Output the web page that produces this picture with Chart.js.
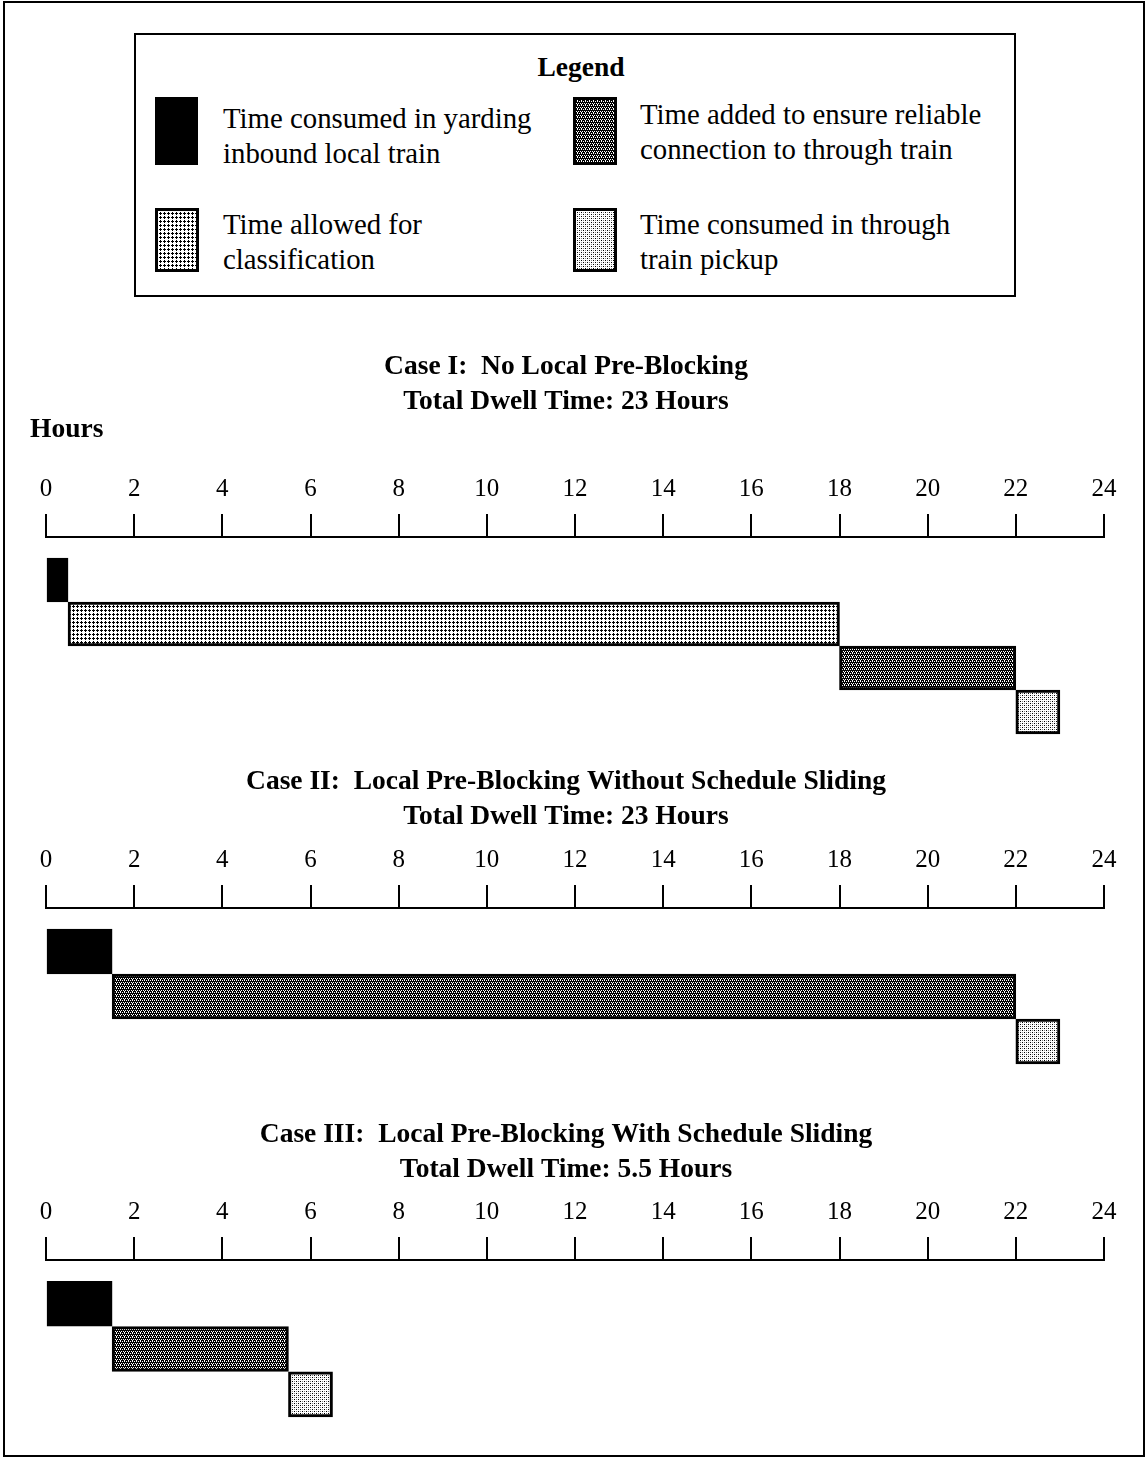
<!DOCTYPE html>
<html>
<head>
<meta charset="utf-8">
<title>Dwell time cases</title>
<script src="https://cdn.jsdelivr.net/npm/chart.js@4.4.1/dist/chart.umd.min.js"></script>
<style>
  body { margin: 0; background: #fff; }
  #page { position: relative; width: 1148px; height: 1458px; overflow: hidden; font-family: "Liberation Serif", "Times New Roman", serif; color: #000; }
  #frame { position: absolute; left: 3px; top: 1px; width: 1142px; height: 1456px; box-sizing: border-box; border: 2px solid #000; }
  #legend { position: absolute; left: 134px; top: 33px; width: 882px; height: 264px; box-sizing: border-box; border: 2px solid #000; }
  #legend h3 { position: absolute; left: 0; right: 0; top: 15px; margin: 0; text-align: center; font-size: 27.5px; line-height: 34px; font-weight: bold; transform: translateX(6px); }
  .swatch { position: absolute; }
  .item { position: absolute; font-size: 28.8px; line-height: 35px; white-space: nowrap; }
  canvas { position: absolute; left: 0; }
  #hours { position: absolute; left: 30px; top: 411px; font-size: 27.5px; line-height: 34px; font-weight: bold; }
</style>
</head>
<body>
<div id="page">
  <div id="frame"></div>
  <div id="legend"><h3>Legend</h3></div>
  <canvas id="case1" width="1132" height="399" style="top:345px"></canvas>
  <canvas id="case2" width="1132" height="314" style="top:760px"></canvas>
  <canvas id="case3" width="1132" height="314" style="top:1113px"></canvas>
  <div id="hours">Hours</div>
</div>
<script>
// hours shown on each ruler
const hourTicks = [0, 2, 4, 6, 8, 10, 12, 14, 16, 18, 20, 22, 24];

// the four kinds of time, as written in the legend
const kindLines = [
  ["Time consumed in yarding", "inbound local train"],
  ["Time allowed for", "classification"],
  ["Time added to ensure reliable", "connection to through train"],
  ["Time consumed in through", "train pickup"]
];

// Case I
const case1Title = ["Case I:  No Local Pre-Blocking", "Total Dwell Time: 23 Hours"];
const case1Kinds = [0, 1, 2, 3];
const case1Start = [0, 0.5, 18, 22];
const case1End = [0.5, 18, 22, 23];

// Case II
const case2Title = ["Case II:  Local Pre-Blocking Without Schedule Sliding", "Total Dwell Time: 23 Hours"];
const case2Kinds = [0, 2, 3];
const case2Start = [0, 1.5, 22];
const case2End = [1.5, 22, 23];

// Case III
const case3Title = ["Case III:  Local Pre-Blocking With Schedule Sliding", "Total Dwell Time: 5.5 Hours"];
const case3Kinds = [0, 2, 3];
const case3Start = [0, 1.5, 5.5];
const case3End = [1.5, 5.5, 6.5];

// small tiles that imitate the printed screens
function makeTile(size, black, grey) {
  const c = document.createElement("canvas");
  c.width = c.height = size;
  const g = c.getContext("2d");
  g.fillStyle = "#fff";
  g.fillRect(0, 0, size, size);
  g.fillStyle = "#000";
  black.forEach(p => g.fillRect(p[0], p[1], 1, 1));
  g.fillStyle = "#888";
  (grey || []).forEach(p => g.fillRect(p[0], p[1], 1, 1));
  return c;
}

const tiles = [
  null,
  makeTile(4, [[1, 0], [0, 1], [1, 1], [2, 1], [1, 2]]),
  makeTile(4, [[1, 0], [3, 0], [0, 1], [1, 1], [2, 1], [0, 2], [2, 2], [1, 3], [2, 3], [3, 3], [3, 1]]),
  makeTile(4, [[0, 0], [2, 2]], [[2, 0], [0, 2]])
];

function fillFor(ctx, kind) {
  if (kind === 0) return "#000";
  return ctx.createPattern(tiles[kind], "repeat");
}

// legend built from the same fills
const legendBox = document.getElementById("legend");
const swatchPos = [[19, 62, 43, 68], [19, 173, 44, 64], [437, 62, 44, 68], [437, 173, 44, 64]];
const textPos = [[87, 65.5], [87, 171.5], [504, 61.5], [504, 171.5]];
kindLines.forEach((lines, k) => {
  const s = swatchPos[k];
  const sw = document.createElement("canvas");
  sw.className = "swatch";
  sw.width = s[2]; sw.height = s[3];
  sw.style.left = s[0] + "px"; sw.style.top = s[1] + "px";
  const g = sw.getContext("2d");
  g.fillStyle = fillFor(g, k);
  g.fillRect(0, 0, s[2], s[3]);
  g.strokeStyle = "#000"; g.lineWidth = 3;
  g.strokeRect(1.5, 1.5, s[2] - 3, s[3] - 3);
  legendBox.appendChild(sw);
  const t = document.createElement("div");
  t.className = "item";
  t.style.left = textPos[k][0] + "px"; t.style.top = textPos[k][1] + "px";
  t.innerHTML = lines.join("<br>");
  legendBox.appendChild(t);
});

function drawCase(id, title, kinds, starts, ends, rowPx, titleGap) {
  const ctx = document.getElementById(id).getContext("2d");
  const rows = kinds.length;
  const topGap = 21, bottomGap = 10;
  const datasets = [0, 1, 2, 3].filter(k => kinds.includes(k)).map(k => ({
    label: kindLines[k].join(" "),
    data: kinds.map((kk, i) => kk === k ? { x: [starts[i], ends[i]], y: i } : null).filter(d => d),
    backgroundColor: fillFor(ctx, k),
    borderColor: "#000",
    borderWidth: 3,
    borderSkipped: false,
    barThickness: rowPx,
    grouped: false
  }));

  return new Chart(ctx, {
    type: "bar",
    data: { datasets: datasets },
    options: {
      indexAxis: "y",
      responsive: false,
      animation: false,
      layout: { padding: { left: 28, right: 28, top: 0, bottom: 0 } },
      plugins: {
        legend: { display: false },
        tooltip: { enabled: false },
        title: {
          display: true,
          text: title,
          color: "#000",
          font: { family: "Liberation Serif", size: 27.5, weight: "bold", lineHeight: 34.5 / 27.5 },
          padding: { top: 5, bottom: titleGap }
        }
      },
      scales: {
        x: {
          type: "linear",
          position: "top",
          min: 0,
          max: 24,
          afterBuildTicks: scale => { scale.ticks = hourTicks.map(v => ({ value: v })); },
          ticks: { color: "#000", padding: 10, font: { family: "Liberation Serif", size: 25 } },
          grid: { drawOnChartArea: false, drawTicks: true, tickLength: 23, color: "#000", lineWidth: 2 },
          border: { display: true, color: "#000", width: 2 }
        },
        y: {
          type: "linear",
          position: "left",
          offset: false,
          reverse: true,
          min: -0.5 - topGap / rowPx,
          max: rows - 0.5 + bottomGap / rowPx,
          ticks: { display: false },
          grid: { display: false },
          border: { display: false },
          // empty strip on the left so the titles sit where the print has them
          afterFit: scale => { scale.width = 18; }
        }
      }
    }
  });
}

drawCase("case1", case1Title, case1Kinds, case1Start, case1End, 44, 45);
drawCase("case2", case2Title, case2Kinds, case2Start, case2End, 45, 1);
drawCase("case3", case3Title, case3Kinds, case3Start, case3End, 45, 0);
</script>
</body>
</html>
